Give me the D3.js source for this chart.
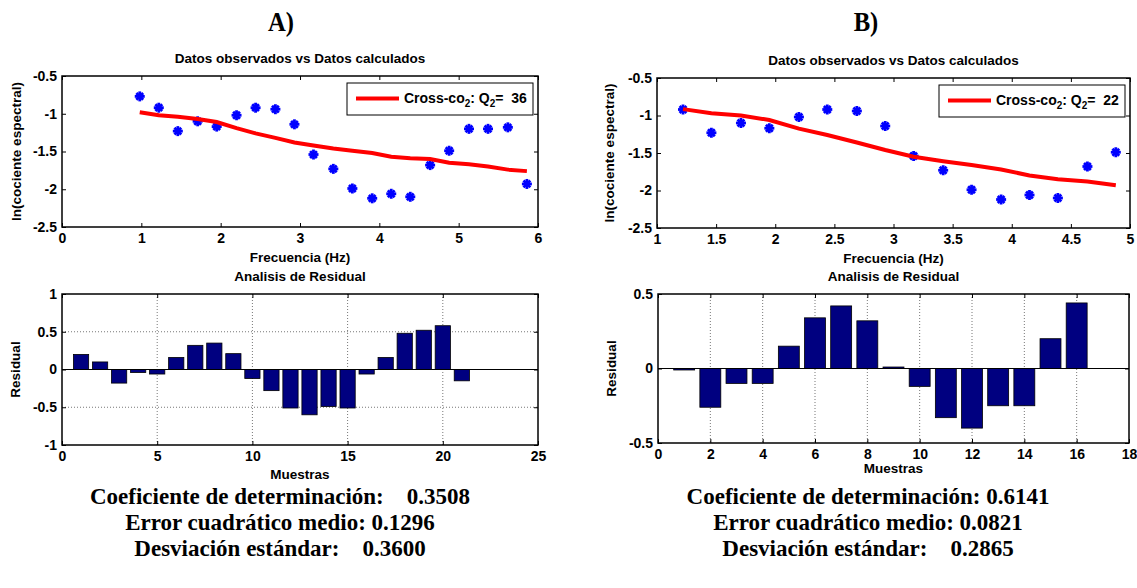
<!DOCTYPE html>
<html>
<head>
<meta charset="utf-8">
<script src="https://cdn.jsdelivr.net/npm/d3@7"></script>
<style>
  body { margin: 0; background: #fff; }
  text { font-family: "Liberation Sans", Arial, sans-serif; font-weight: bold; fill: #000; }
  .serif { font-family: "Liberation Serif", "Times New Roman", serif; white-space: pre; }
</style>
</head>
<body>
<svg id="chart"></svg>
<script>
'use strict';

var W = 1137, H = 588;

// frequencies (Hz) and observed / calculated ln(spectral ratio) for panel A
var freqA = [0.98, 1.22, 1.46, 1.71, 1.95, 2.20, 2.44, 2.69, 2.93, 3.17, 3.42,
             3.66, 3.91, 4.15, 4.39, 4.64, 4.88, 5.13, 5.37, 5.62, 5.86];
var obsA = [-0.77, -0.92, -1.23, -1.10, -1.17, -1.02, -0.92, -0.94, -1.14, -1.54, -1.73,
            -1.99, -2.12, -2.06, -2.10, -1.68, -1.49, -1.20, -1.20, -1.18, -1.93];
var calcA = [-0.98, -1.02, -1.04, -1.07, -1.11, -1.19, -1.26, -1.32, -1.38, -1.42, -1.46,
             -1.49, -1.52, -1.57, -1.59, -1.60, -1.65, -1.67, -1.70, -1.74, -1.76];
var resA = [0.20, 0.10, -0.18, -0.04, -0.06, 0.16, 0.32, 0.35, 0.21, -0.12, -0.28,
            -0.51, -0.60, -0.49, -0.51, -0.06, 0.16, 0.48, 0.52, 0.58, -0.15];

// panel B
var freqB = [1.22, 1.46, 1.71, 1.95, 2.20, 2.44, 2.69, 2.93, 3.17, 3.42,
             3.66, 3.91, 4.15, 4.39, 4.64, 4.88];
var obsB = [-0.92, -1.23, -1.10, -1.17, -1.02, -0.92, -0.94, -1.14, -1.54, -1.73,
            -1.99, -2.12, -2.06, -2.10, -1.68, -1.49];
var calcB = [-0.915, -0.97, -1.00, -1.06, -1.175, -1.26, -1.36, -1.46, -1.55, -1.61,
             -1.66, -1.72, -1.80, -1.85, -1.88, -1.93];
var resB = [-0.01, -0.26, -0.10, -0.10, 0.15, 0.34, 0.42, 0.32, 0.01, -0.12,
            -0.33, -0.40, -0.25, -0.25, 0.20, 0.44];

// tick values
var yTicksTop = [-2.5, -2, -1.5, -1, -0.5];
var xTicksTopA = [0, 1, 2, 3, 4, 5, 6];
var xTicksTopB = [1, 1.5, 2, 2.5, 3, 3.5, 4, 4.5, 5];
var yTicksResA = [-1, -0.5, 0, 0.5, 1];
var xTicksResA = [0, 5, 10, 15, 20, 25];
var yTicksResB = [-0.5, 0, 0.5];
var xTicksResB = [0, 2, 4, 6, 8, 10, 12, 14, 16, 18];

var statsA = ['Coeficiente de determinación:    0.3508',
              'Error cuadrático medio: 0.1296',
              'Desviación estándar:    0.3600'];
var statsB = ['Coeficiente de determinación: 0.6141',
              'Error cuadrático medio: 0.0821',
              'Desviación estándar:    0.2865'];

var svg = d3.select('#chart').attr('width', W).attr('height', H);
svg.append('rect').attr('width', W).attr('height', H).attr('fill', '#fff');

var fmt = function (d) { return String(d); };

// box with inward ticks on all four sides, MATLAB style
function frame(g, x, y, w, h, xTicks, yTicks) {
    g.append('g').attr('transform', 'translate(0,' + h + ')')
        .call(d3.axisBottom(x).tickValues(xTicks).tickFormat(fmt).tickSize(-4).tickPadding(6));
    g.append('g')
        .call(d3.axisTop(x).tickValues(xTicks).tickFormat('').tickSize(-4));
    g.append('g')
        .call(d3.axisLeft(y).tickValues(yTicks).tickFormat(fmt).tickSize(-4).tickPadding(5));
    g.append('g').attr('transform', 'translate(' + w + ',0)')
        .call(d3.axisRight(y).tickValues(yTicks).tickFormat('').tickSize(-4));
    g.selectAll('.domain').remove();
    g.selectAll('.tick line').attr('stroke', '#000').attr('stroke-width', 1);
    g.selectAll('.tick text').attr('font-size', 14).attr('font-family', null)
        .attr('fill', '#000');
    g.append('rect').attr('width', w).attr('height', h)
        .attr('fill', 'none').attr('stroke', '#000').attr('stroke-width', 1.5);
}

function fitPanel(cfg) {
    var w = cfg.x1 - cfg.x0, h = cfg.y1 - cfg.y0;
    var g = svg.append('g').attr('transform', 'translate(' + cfg.x0 + ',' + cfg.y0 + ')');
    var x = d3.scaleLinear().domain(cfg.xDomain).range([0, w]);
    var y = d3.scaleLinear().domain([-2.5, -0.5]).range([h, 0]);

    var pts = cfg.freq.map(function (f, i) { return { f: f, o: cfg.obs[i], c: cfg.calc[i] }; });

    var star = g.append('g').selectAll('g').data(pts).join('g')
        .attr('transform', function (d) { return 'translate(' + x(d.f) + ',' + y(d.o) + ')'; });
    [[-5, 0, 5, 0], [0, -5, 0, 5], [-3.4, -3.4, 3.4, 3.4], [-3.4, 3.4, 3.4, -3.4]].forEach(function (s) {
        star.append('line').attr('x1', s[0]).attr('y1', s[1]).attr('x2', s[2]).attr('y2', s[3])
            .attr('stroke', '#0000ff').attr('stroke-width', 2.8);
    });

    g.append('path').datum(pts)
        .attr('fill', 'none').attr('stroke', '#ff0000').attr('stroke-width', 4)
        .attr('d', d3.line().x(function (d) { return x(d.f); }).y(function (d) { return y(d.c); }));

    frame(g, x, y, w, h, cfg.xTicks, yTicksTop);

    // legend
    var lg = g.append('g').attr('transform', 'translate(' + (cfg.legX - cfg.x0) + ',' + (cfg.legY - cfg.y0) + ')');
    lg.append('rect').attr('width', 186).attr('height', 32)
        .attr('fill', '#fff').attr('stroke', '#000').attr('stroke-width', 1);
    lg.append('line').attr('x1', 9).attr('x2', 52).attr('y1', 15.5).attr('y2', 15.5)
        .attr('stroke', '#ff0000').attr('stroke-width', 4);
    var t = lg.append('text').attr('x', 57).attr('y', 20).attr('font-size', 14);
    t.append('tspan').text('Cross-co');
    t.append('tspan').attr('font-size', 10).attr('dy', 4).text('2');
    t.append('tspan').attr('dy', -4).text(': Q');
    t.append('tspan').attr('font-size', 10).attr('dy', 4).text('2');
    t.append('tspan').attr('dy', -4).attr('xml:space', 'preserve').text('=  ' + cfg.q);

    g.append('text').attr('x', w / 2).attr('y', -13).attr('text-anchor', 'middle')
        .attr('font-size', 13.5).text('Datos observados vs Datos calculados');
    g.append('text').attr('x', w / 2).attr('y', h + 35).attr('text-anchor', 'middle')
        .attr('font-size', 13.5).text('Frecuencia (Hz)');
    g.append('text').attr('transform', 'translate(' + cfg.ylabX + ',' + (h / 2) + ') rotate(-90)')
        .attr('text-anchor', 'middle').attr('font-size', 13.5).text('ln(cociente espectral)');
}

function residualPanel(cfg) {
    var w = cfg.x1 - cfg.x0, h = cfg.y1 - cfg.y0;
    var g = svg.append('g').attr('transform', 'translate(' + cfg.x0 + ',' + cfg.y0 + ')');
    var x = d3.scaleLinear().domain(cfg.xDomain).range([0, w]);
    var y = d3.scaleLinear().domain(cfg.yDomain).range([h, 0]);

    // dotted grid
    var grid = g.append('g').attr('stroke', '#777').attr('stroke-width', 1).attr('stroke-dasharray', '1,2');
    grid.selectAll('.gx').data(cfg.xTicks.slice(1, -1)).join('line')
        .attr('x1', x).attr('x2', x).attr('y1', 0).attr('y2', h);
    grid.selectAll('.gy').data(cfg.yTicks.slice(1, -1)).join('line')
        .attr('y1', y).attr('y2', y).attr('x1', 0).attr('x2', w);

    var bw = x(0.8) - x(0);
    g.append('g').selectAll('rect').data(cfg.res).join('rect')
        .attr('x', function (d, i) { return x(i + 1) - bw / 2; })
        .attr('y', function (d) { return y(Math.max(0, d)); })
        .attr('width', bw)
        .attr('height', function (d) { return Math.abs(y(d) - y(0)); })
        .attr('fill', '#000080').attr('stroke', '#000').attr('stroke-width', 0.8);

    g.append('line').attr('x1', 0).attr('x2', w).attr('y1', y(0)).attr('y2', y(0))
        .attr('stroke', '#000').attr('stroke-width', 1.2);

    frame(g, x, y, w, h, cfg.xTicks, cfg.yTicks);

    g.append('text').attr('x', w / 2).attr('y', -13).attr('text-anchor', 'middle')
        .attr('font-size', 13.5).text('Analisis de Residual');
    g.append('text').attr('x', w / 2).attr('y', h + cfg.mLab).attr('text-anchor', 'middle')
        .attr('font-size', 13.5).text('Muestras');
    g.append('text').attr('transform', 'translate(' + cfg.ylabX + ',' + (h / 2) + ') rotate(-90)')
        .attr('text-anchor', 'middle').attr('font-size', 13.5).text('Residual');
}

fitPanel({ x0: 62, x1: 538, y0: 76, y1: 227, xDomain: [0, 6], xTicks: xTicksTopA,
           freq: freqA, obs: obsA, calc: calcA, q: '36', legX: 347, legY: 83, ylabX: -41 });
fitPanel({ x0: 657, x1: 1130, y0: 78, y1: 228, xDomain: [1, 5], xTicks: xTicksTopB,
           freq: freqB, obs: obsB, calc: calcB, q: '22', legX: 939, legY: 85, ylabX: -43 });

residualPanel({ x0: 62, x1: 538, y0: 294, y1: 445, xDomain: [0, 25], yDomain: [-1, 1],
                xTicks: xTicksResA, yTicks: yTicksResA, res: resA, mLab: 34, ylabX: -42 });
residualPanel({ x0: 658, x1: 1129, y0: 294, y1: 443, xDomain: [0, 18], yDomain: [-0.5, 0.5],
                xTicks: xTicksResB, yTicks: yTicksResB, res: resB, mLab: 30, ylabX: -42 });

// panel headings and summary statistics (narrow, tall serif like the original)
function serifText(x, y, size, sx, str) {
    svg.append('text').attr('class', 'serif')
        .attr('transform', 'translate(' + x + ',' + y + ') scale(' + sx + ',1)')
        .attr('text-anchor', 'middle').attr('font-size', size).text(str);
}

serifText(281, 31, 28, 0.88, 'A)');
serifText(866, 31, 28, 0.88, 'B)');

statsA.forEach(function (s, i) { serifText(280, 504 + i * 26, 23, 1, s); });
statsB.forEach(function (s, i) { serifText(868, 504 + i * 26, 23, 1, s); });
</script>
</body>
</html>
